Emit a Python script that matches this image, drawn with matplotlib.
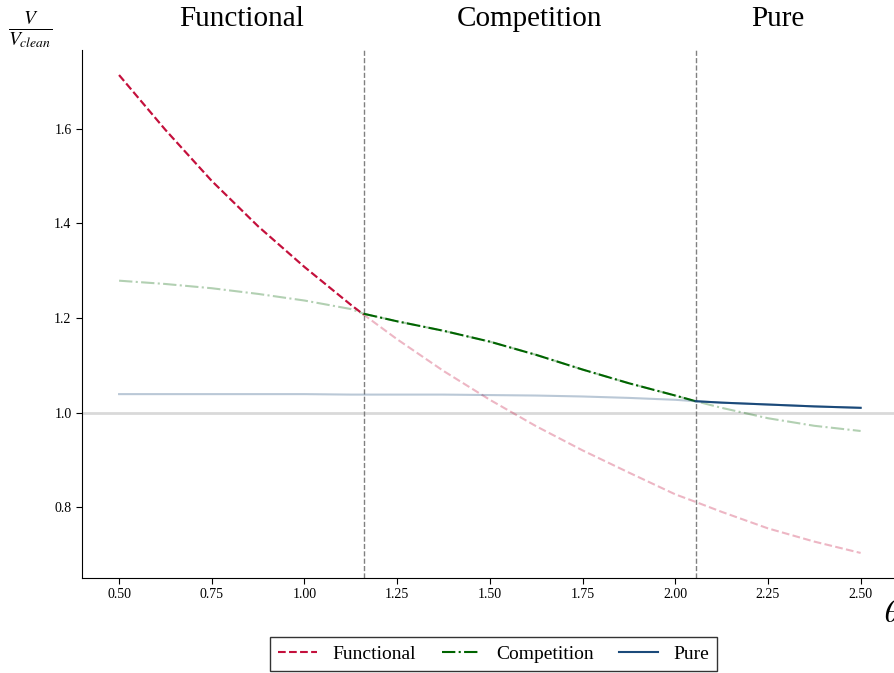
import numpy as np
import matplotlib
matplotlib.use("Agg")
from matplotlib import pyplot as plt

plt.rcParams['font.family'] = ['Liberation Serif', 'DejaVu Serif']
plt.rcParams['mathtext.fontset'] = 'stix'

# theta grid (boundaries included so regions split cleanly)
theta = [0.5, 0.625, 0.75, 0.875, 1.0, 1.125, 1.16, 1.25, 1.375, 1.5, 1.625,
         1.75, 1.875, 2.0, 2.055, 2.125, 2.25, 2.375, 2.5]
functional = [1.714, 1.598, 1.490, 1.394, 1.308, 1.228, 1.207, 1.155, 1.088,
              1.027, 0.971, 0.920, 0.873, 0.827, 0.811, 0.790, 0.755, 0.727, 0.703]
competition = [1.279, 1.272, 1.263, 1.251, 1.237, 1.219, 1.209, 1.193, 1.173,
               1.150, 1.122, 1.091, 1.062, 1.036, 1.024, 1.010, 0.988, 0.972, 0.961]
pure = [1.039, 1.039, 1.039, 1.039, 1.039, 1.038, 1.038, 1.038, 1.038,
        1.037, 1.036, 1.034, 1.031, 1.027, 1.024, 1.021, 1.017, 1.013, 1.010]
bounds = [1.16, 2.055]
regions = ["Functional", "Competition", "Pure"]

x = np.array(theta)
series = [np.array(functional), np.array(competition), np.array(pure)]
colors = ['#C4103C', '#006400', '#1B4A7A']
styles = ['--', '-.', '-']
edges = [x[0], bounds[0], bounds[1], x[-1]]

fig = plt.figure(figsize=(8.94, 6.73), dpi=100)
ax = fig.add_axes([82/894, 1-578/673, 1-82/894, (578-50)/673])

ax.axhline(1.0, color='#d9d9d9', lw=2, zorder=0)
for b in bounds:
    ax.axvline(b, color='gray', ls='--', lw=1)

for i in range(3):
    y = series[i]
    ax.plot(x, y, color=colors[i], ls=styles[i], lw=1.5, alpha=0.3)
    m = (x >= edges[i] - 1e-9) & (x <= edges[i+1] + 1e-9)
    ax.plot(x[m], y[m], color=colors[i], ls=styles[i], lw=1.5, label=regions[i])

ax.set_xlim(0.4, 2.59)
ax.set_ylim(0.65, 1.767)
ax.set_xticks([0.5, 0.75, 1.0, 1.25, 1.5, 1.75, 2.0, 2.25, 2.5])
ax.set_xticklabels(['%.2f' % t for t in ax.get_xticks()])
ax.set_yticks([0.8, 1.0, 1.2, 1.4, 1.6])
ax.tick_params(labelsize=10, length=4)
ax.spines['top'].set_visible(False)
ax.spines['right'].set_visible(False)

# region names above the plot
for i in range(3):
    ax.text((edges[i] + edges[i+1]) / 2, 1.035, regions[i],
            transform=ax.get_xaxis_transform(), ha='center', va='bottom',
            fontsize=21)

fig.text(30/894, 1-30/673, r'$\frac{V}{V_{clean}}$', ha='center', va='center', fontsize=20)
fig.text(884/894, 1-614/673, r'$\theta$', ha='left', va='center', fontsize=22)

leg = ax.legend(loc='upper center', bbox_to_anchor=(0.507, -0.112), ncol=3,
                fontsize=14, frameon=True, fancybox=False, edgecolor='black',
                handlelength=2.0, columnspacing=1.3, borderpad=0.42,
                borderaxespad=0.0)
leg.get_frame().set_linewidth(1.0)

fig.savefig('out.png', dpi=100)
